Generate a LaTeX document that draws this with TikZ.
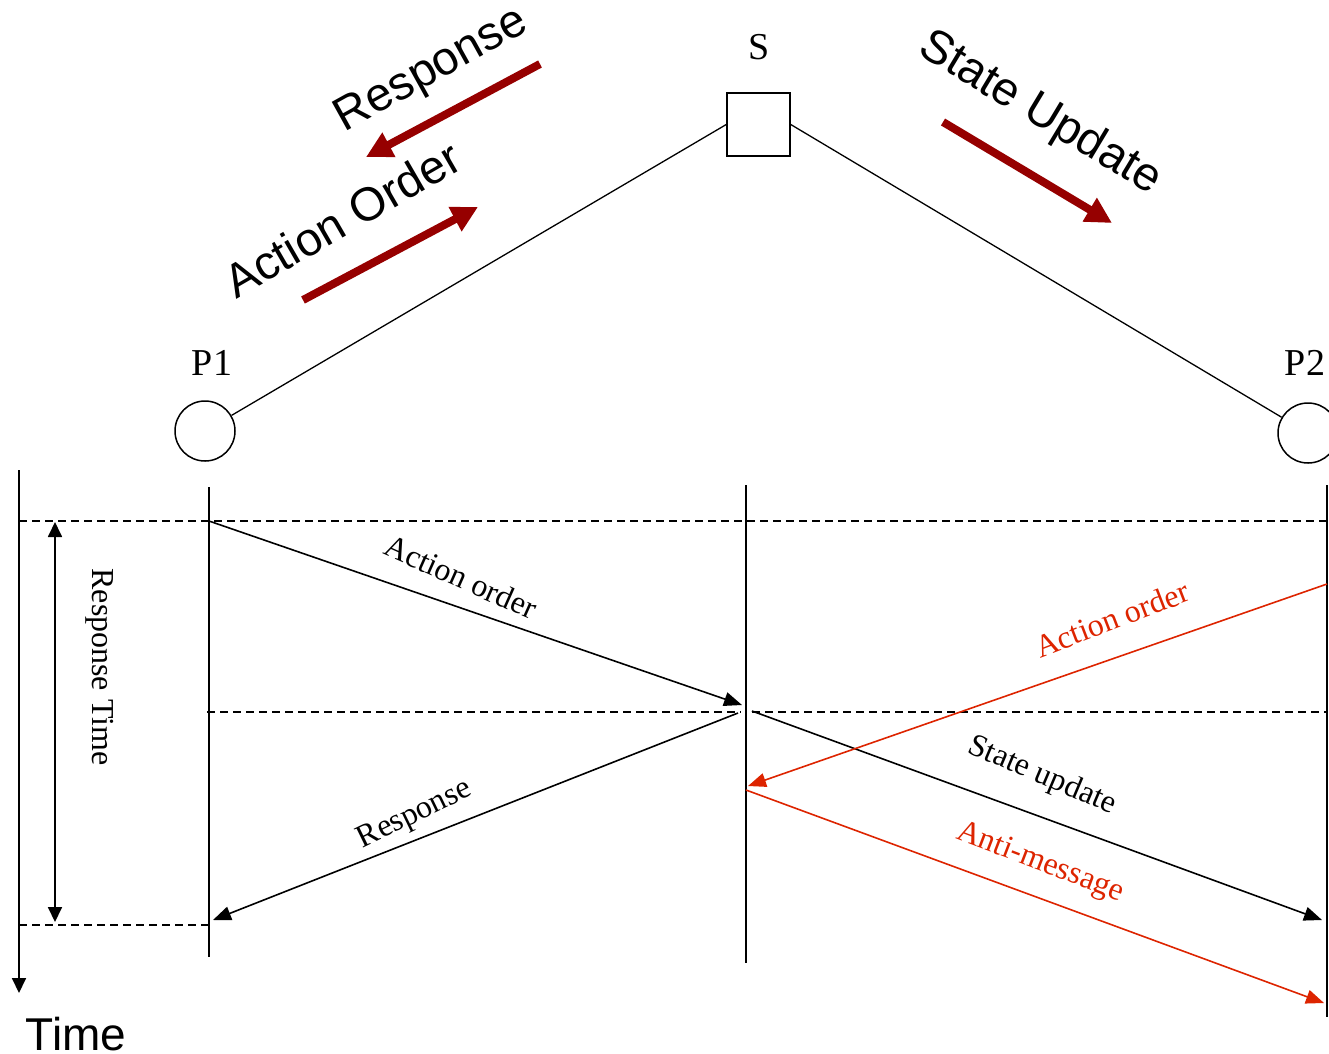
\documentclass[tikz,border=0pt]{standalone}
\usepackage{fontspec}
\setmainfont{Liberation Serif}
\newfontfamily\headfont{Liberation Sans}
\usetikzlibrary{arrows.meta}
\definecolor{msgred}{RGB}{221,36,0}
\definecolor{flowred}{RGB}{150,0,0}
\tikzset{
  timeline/.style={line width=1.8},
  link/.style={line width=1.3},
  guide/.style={line width=1.4, dash pattern=on 8 off 5},
  msg/.style={line width=1.6, -{Triangle[length=18, width=14]}},
  redmsg/.style={msg, draw=msgred},
  flow/.style={line width=8, draw=flowred, -{Triangle[length=26, width=26]}},
  biglab/.style={font=\headfont\fontsize{47}{50}\selectfont, inner sep=0},
  lab/.style={font=\fontsize{32}{34}\selectfont, inner sep=0},
  redlab/.style={lab, text=msgred},
  endlab/.style={font=\fontsize{38}{40}\selectfont, inner sep=0},
}
\begin{document}
\begin{tikzpicture}[x=1pt, y=-1pt]
\useasboundingbox (0,0) rectangle (1329,1053);
\clip (0,0) rectangle (1329,1053);

% topology: two players and the server
\node[circle, draw, line width=1.5, minimum size=60, inner sep=0] (p1) at (205,431) {};
\node[circle, draw, line width=1.5, minimum size=60, inner sep=0] (p2) at (1308,433) {};
\node[draw, line width=1.5, minimum size=63, inner sep=0] (s) at (758.5,124.5) {};
\node[endlab] (p1l) at (212,363) {P1};
\node[endlab] (p2l) at (1305,363) {P2};
\node[endlab] (sl) at (759,47) {S};
\draw[link] (p1) -- (s.west);
\draw[link] (s.east) -- (p2);

% message flow along the links
\coordinate (f1a) at (540,64);  \coordinate (f1b) at (366,157);
\coordinate (f2a) at (303,300); \coordinate (f2b) at (478,207);
\coordinate (f3a) at (943,122); \coordinate (f3b) at (1112,223);
\draw[flow] (f1a) -- (f1b);
\draw[flow] (f2a) -- (f2b);
\draw[flow] (f3a) -- (f3b);
\node[biglab, rotate=29] (resp) at (432,71) {Response};
\node[biglab, rotate=30] (act) at (342,219) {Action Order};
\node[biglab, rotate=-31] (upd) at (1040,114) {State Update};

% time lines
\coordinate (t0) at (19,470);  \coordinate (t1) at (19,993);
\coordinate (a0) at (209,487); \coordinate (a1) at (209,957);
\coordinate (b0) at (746,485); \coordinate (b1) at (746,963);
\coordinate (c0) at (1327,485); \coordinate (c1) at (1327,1017);
\draw[timeline, -{Triangle[length=15, width=14]}] (t0) -- (t1);
\draw[timeline] (a0) -- (a1);
\draw[timeline] (b0) -- (b1);
\draw[timeline] (c0) -- (c1);
\node[font=\headfont\fontsize{46}{48}\selectfont, inner sep=0] (time) at (76,1034) {Time};

% reference levels
\coordinate (d1a) at (19,521);  \coordinate (d1b) at (1327,521);
\coordinate (d2a) at (207,712); \coordinate (d2b) at (741,712);
\coordinate (d3a) at (752,712); \coordinate (d3b) at (1327,712);
\coordinate (d4a) at (19,925);  \coordinate (d4b) at (209,925);
\draw[guide] (d1a) -- (d1b);
\draw[guide] (d2a) -- (d2b);
\draw[guide] (d3a) -- (d3b);
\draw[guide] (d4a) -- (d4b);

% response time span
\coordinate (r0) at (55,522); \coordinate (r1) at (55,922);
\draw[line width=1.8, {Triangle[length=15, width=14]}-{Triangle[length=15, width=14]}] (r0) -- (r1);
\node[lab, rotate=-90] (rtl) at (100,667) {Response Time};

% messages
\coordinate (m1a) at (209,521);  \coordinate (m1b) at (742,705);
\coordinate (m2a) at (738,713);  \coordinate (m2b) at (213,920);
\coordinate (m3a) at (752,711);  \coordinate (m3b) at (1322,920);
\coordinate (m4a) at (1327,584); \coordinate (m4b) at (748,786);
\coordinate (m5a) at (746,790);  \coordinate (m5b) at (1324,1003);
\draw[msg] (m1a) -- (m1b);
\draw[msg] (m2a) -- (m2b);
\draw[msg] (m3a) -- (m3b);
\draw[redmsg] (m4a) -- (m4b);
\draw[redmsg] (m5a) -- (m5b);
\node[lab, rotate=-24] (l1) at (461,577) {Action order};
\node[lab, rotate=26] (l2) at (415,815) {Response};
\node[lab, rotate=-23] (l3) at (1042,776) {State update};
\node[redlab, rotate=21] (l4) at (1112,619) {Action order};
\node[redlab, rotate=-21] (l5) at (1040,863) {Anti-message};
\end{tikzpicture}
\end{document}
